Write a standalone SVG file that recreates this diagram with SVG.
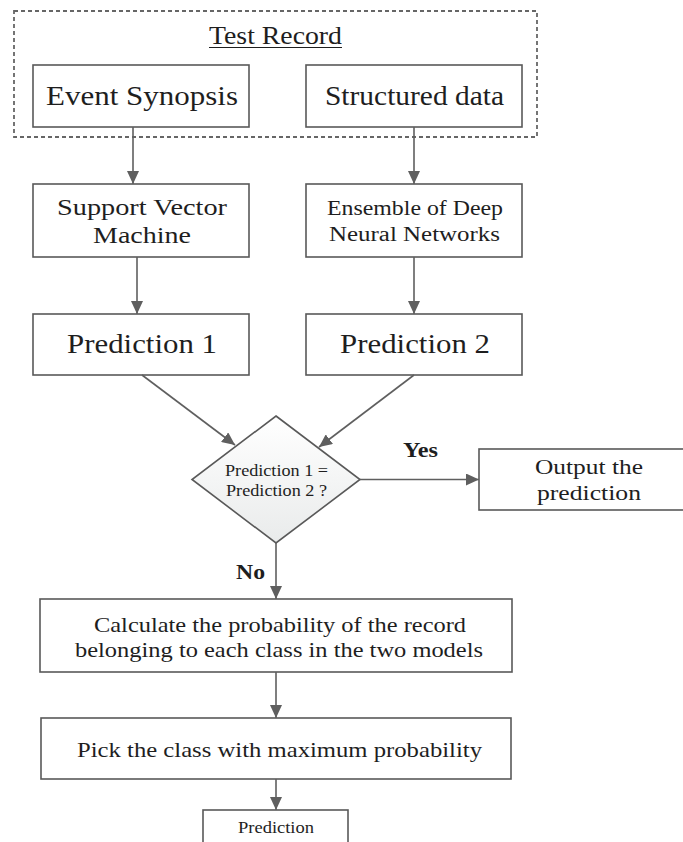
<svg xmlns="http://www.w3.org/2000/svg" width="683" height="842" viewBox="0 0 683 842">
  <style>
    .box { fill: #ffffff; stroke: #595959; stroke-width: 1.6; }
    .dash { fill: none; stroke: #666666; stroke-width: 1.8; stroke-dasharray: 4 3; }
    .edge { fill: none; stroke: #5f5f5f; stroke-width: 1.6; }
    text { font-family: "Liberation Serif", "Times New Roman", serif; fill: #1e1e1e; text-anchor: middle; }
    .lbl { font-weight: bold; }
  </style>
  <defs>
    <marker id="arrow" markerUnits="userSpaceOnUse" markerWidth="13" markerHeight="12" refX="13" refY="6" orient="auto">
      <path d="M0,0 L13,6 L0,12 z" fill="#5f5f5f"/>
    </marker>
    <linearGradient id="diamondFill" x1="0" y1="0" x2="0" y2="1">
      <stop offset="0" stop-color="#ffffff"/>
      <stop offset="1" stop-color="#e9ebeb"/>
    </linearGradient>
  </defs>

  <!-- input record container -->
  <g id="test-record">
    <rect class="dash" x="14" y="11" width="523" height="126"/>
    <text x="275.5" y="44" font-size="25" textLength="133" lengthAdjust="spacingAndGlyphs">Test Record</text>
    <line x1="209" y1="47.5" x2="342" y2="47.5" stroke="#1e1e1e" stroke-width="1.2"/>
  </g>

  <g id="event-synopsis">
    <rect class="box" x="33" y="65" width="216" height="62"/>
    <text x="142" y="105" font-size="27" textLength="192" lengthAdjust="spacingAndGlyphs">Event Synopsis</text>
  </g>

  <g id="structured-data">
    <rect class="box" x="306" y="65" width="216" height="62"/>
    <text x="414.5" y="105" font-size="27" textLength="179" lengthAdjust="spacingAndGlyphs">Structured data</text>
  </g>

  <g id="svm">
    <rect class="box" x="33" y="184" width="216" height="73"/>
    <text x="142" y="215" font-size="24" textLength="170" lengthAdjust="spacingAndGlyphs">Support Vector</text>
    <text x="142" y="243" font-size="24" textLength="98" lengthAdjust="spacingAndGlyphs">Machine</text>
  </g>

  <g id="dnn-ensemble">
    <rect class="box" x="306" y="184" width="216" height="73"/>
    <text x="415" y="215" font-size="20" textLength="176" lengthAdjust="spacingAndGlyphs">Ensemble of Deep</text>
    <text x="414.5" y="241" font-size="20" textLength="171" lengthAdjust="spacingAndGlyphs">Neural Networks</text>
  </g>

  <g id="prediction-1">
    <rect class="box" x="33" y="314" width="216" height="61"/>
    <text x="142" y="353" font-size="27" textLength="150" lengthAdjust="spacingAndGlyphs">Prediction 1</text>
  </g>

  <g id="prediction-2">
    <rect class="box" x="306" y="314" width="216" height="61"/>
    <text x="415" y="353" font-size="27" textLength="150" lengthAdjust="spacingAndGlyphs">Prediction 2</text>
  </g>

  <g id="agree-check">
    <polygon points="276,416 360,479.5 276,543 192,479.5" fill="url(#diamondFill)" stroke="#595959" stroke-width="1.6"/>
    <text x="276.5" y="476" font-size="16" textLength="103" lengthAdjust="spacingAndGlyphs">Prediction 1 =</text>
    <text x="276.5" y="496" font-size="16" textLength="101" lengthAdjust="spacingAndGlyphs">Prediction 2 ?</text>
  </g>

  <g id="output">
    <rect class="box" x="479" y="449" width="222" height="61"/>
    <text x="589" y="474" font-size="21" textLength="108" lengthAdjust="spacingAndGlyphs">Output the</text>
    <text x="589" y="500" font-size="21" textLength="104" lengthAdjust="spacingAndGlyphs">prediction</text>
  </g>

  <g id="class-probability">
    <rect class="box" x="40" y="599" width="472" height="73"/>
    <text x="280" y="632" font-size="21" textLength="372" lengthAdjust="spacingAndGlyphs">Calculate the probability of the record</text>
    <text x="279" y="657" font-size="21" textLength="408" lengthAdjust="spacingAndGlyphs">belonging to each class in the two models</text>
  </g>

  <g id="max-probability">
    <rect class="box" x="41" y="718" width="470" height="61"/>
    <text x="279.5" y="757" font-size="21" textLength="405" lengthAdjust="spacingAndGlyphs">Pick the class with maximum probability</text>
  </g>

  <g id="final-prediction">
    <rect class="box" x="203" y="810" width="145" height="40"/>
    <text x="276" y="833" font-size="16" textLength="76" lengthAdjust="spacingAndGlyphs">Prediction</text>
  </g>

  <!-- connectors -->
  <g id="connectors">
    <line class="edge" x1="133" y1="127" x2="133" y2="184" marker-end="url(#arrow)"/>
    <line class="edge" x1="414" y1="127" x2="414" y2="184" marker-end="url(#arrow)"/>
    <line class="edge" x1="137" y1="257" x2="137" y2="314" marker-end="url(#arrow)"/>
    <line class="edge" x1="414" y1="257" x2="414" y2="314" marker-end="url(#arrow)"/>
    <line class="edge" x1="142" y1="375" x2="235" y2="445" marker-end="url(#arrow)"/>
    <line class="edge" x1="414" y1="375" x2="319" y2="447" marker-end="url(#arrow)"/>
    <line class="edge" x1="360" y1="479.5" x2="479" y2="479.5" marker-end="url(#arrow)"/>
    <line class="edge" x1="276" y1="543" x2="276" y2="599" marker-end="url(#arrow)"/>
    <line class="edge" x1="276" y1="672" x2="276" y2="718" marker-end="url(#arrow)"/>
    <line class="edge" x1="276" y1="779" x2="276" y2="810" marker-end="url(#arrow)"/>
    <text class="lbl" x="420.5" y="457" font-size="20" textLength="35" lengthAdjust="spacingAndGlyphs">Yes</text>
    <text class="lbl" x="250.5" y="579" font-size="21" textLength="29" lengthAdjust="spacingAndGlyphs">No</text>
  </g>
</svg>
